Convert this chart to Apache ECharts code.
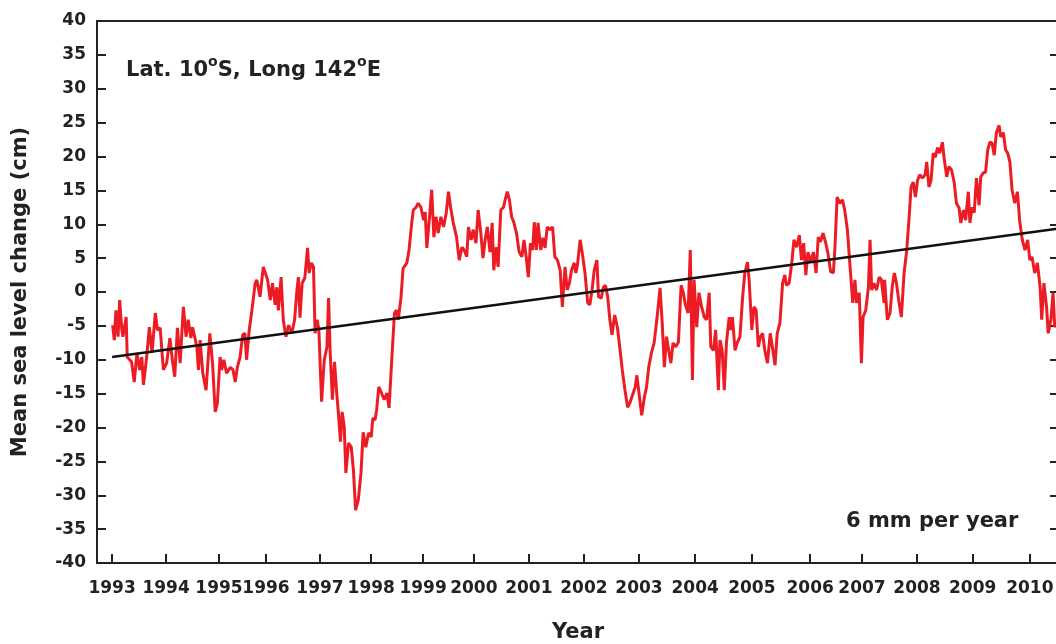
<!DOCTYPE html>
<html>
<head>
<meta charset="utf-8">
<script src="https://cdn.jsdelivr.net/npm/echarts@6/dist/echarts.min.js"></script>
<style>
html,body{margin:0;padding:0;background:#fff;overflow:hidden;}
#c{width:1061px;height:644px;}
</style>
</head>
<body>
<div id="c"></div>
<script>
// ---- data ----
const tickLabels = ['1993','1994','1995','1996','1997','1998','1999','2000','2001','2002','2003','2004','2005','2006','2007','2008','2009','2010'];
const tickPos = [1993.00,1994.00,1994.98,1995.85,1996.85,1997.80,1998.76,1999.70,2000.72,2001.74,2002.76,2003.80,2004.85,2005.93,2006.89,2007.91,2008.94,2010.00];

const years = [
1993.01,1993.04,1993.07,1993.11,1993.14,1993.18,1993.20,1993.26,1993.28,1993.36,1993.41,1993.46,1993.51,1993.55,1993.58,1993.64,1993.69,1993.74,1993.80,1993.84,1993.89,1993.95,
1994.01,1994.07,1994.12,1994.16,1994.21,1994.26,1994.32,1994.37,1994.41,1994.46,1994.49,1994.57,1994.60,1994.63,1994.68,1994.74,1994.81,1994.86,1994.91,1994.95,
1995.00,1995.03,1995.07,1995.12,1995.19,1995.24,1995.28,1995.32,1995.37,1995.42,1995.46,1995.49,1995.54,1995.59,1995.65,1995.68,1995.74,1995.80,1995.88,1995.93,1995.97,
1996.02,1996.05,1996.08,1996.13,1996.17,1996.22,1996.27,1996.33,1996.38,1996.42,1996.45,1996.48,1996.52,1996.57,1996.62,1996.65,1996.69,1996.73,1996.76,1996.80,1996.83,1996.88,1996.93,1996.98,
1997.01,1997.04,1997.08,1997.12,1997.16,1997.19,1997.23,1997.26,1997.30,1997.33,1997.38,1997.43,1997.47,1997.51,1997.56,1997.61,1997.65,1997.70,1997.75,1997.80,1997.83,1997.87,1997.90,1997.94,1997.99,
1998.04,1998.09,1998.13,1998.18,1998.23,1998.27,1998.30,1998.35,1998.39,1998.46,1998.50,1998.55,1998.58,1998.63,1998.67,1998.72,1998.77,1998.80,1998.83,1998.88,1998.92,1998.96,
1999.00,1999.04,1999.09,1999.14,1999.19,1999.23,1999.27,1999.32,1999.38,1999.43,1999.48,1999.52,1999.57,1999.60,1999.65,1999.69,1999.74,1999.78,1999.83,1999.87,1999.91,1999.95,
2000.00,2000.04,2000.07,2000.11,2000.15,2000.20,2000.25,2000.28,2000.32,2000.36,2000.40,2000.44,2000.49,2000.54,2000.59,2000.63,2000.67,2000.71,2000.75,2000.79,2000.82,2000.86,2000.89,2000.94,2000.98,
2001.02,2001.06,2001.11,2001.16,2001.20,2001.25,2001.30,2001.34,2001.39,2001.43,2001.47,2001.51,2001.56,2001.59,2001.62,2001.67,2001.71,2001.76,2001.81,2001.85,2001.89,2001.93,2001.98,
2002.01,2002.06,2002.10,2002.14,2002.18,2002.22,2002.26,2002.31,2002.36,2002.41,2002.45,2002.50,2002.55,2002.59,2002.64,2002.69,2002.72,2002.76,2002.81,2002.86,2002.90,2002.94,2002.99,
2003.04,2003.09,2003.15,2003.19,2003.23,2003.27,2003.31,2003.35,2003.39,2003.44,2003.49,2003.54,2003.58,2003.62,2003.67,2003.71,2003.75,2003.78,2003.83,2003.87,2003.92,2003.97,
2004.01,2004.06,2004.09,2004.14,2004.18,2004.23,2004.26,2004.30,2004.34,2004.38,2004.43,2004.46,2004.49,2004.54,2004.58,2004.63,2004.68,2004.72,2004.77,2004.80,2004.85,2004.89,2004.93,2004.97,
2005.01,2005.05,2005.09,2005.14,2005.19,2005.24,2005.28,2005.32,2005.37,2005.42,2005.46,2005.49,2005.54,2005.59,2005.63,2005.68,2005.73,2005.77,2005.81,2005.85,2005.89,2005.94,2005.99,
2006.04,2006.08,2006.12,2006.17,2006.22,2006.26,2006.31,2006.36,2006.39,2006.43,2006.48,2006.53,2006.57,2006.62,2006.67,2006.72,2006.76,2006.79,2006.84,2006.88,2006.91,2006.96,
2007.01,2007.04,2007.07,2007.11,2007.16,2007.21,2007.25,2007.30,2007.31,2007.36,2007.41,2007.45,2007.49,2007.53,2007.57,2007.62,2007.67,2007.72,2007.76,2007.80,2007.84,2007.88,2007.92,2007.96,
2008.01,2008.06,2008.09,2008.13,2008.17,2008.21,2008.25,2008.29,2008.33,2008.38,2008.41,2008.46,2008.50,2008.55,2008.60,2008.64,2008.69,2008.72,2008.77,2008.81,2008.86,2008.89,2008.93,2008.97,
2009.01,2009.06,2009.09,2009.14,2009.18,2009.22,2009.26,2009.30,2009.34,2009.38,2009.43,2009.46,2009.51,2009.55,2009.59,2009.63,2009.67,2009.72,2009.77,2009.81,2009.86,2009.91,2009.96,
2010.00,2010.04,2010.09,2010.14,2010.19,2010.22,2010.26,2010.31,2010.34,2010.39,2010.43,2010.46,2010.50
];

const seaLevel = [
-4.9,-7.1,-2.7,-6.6,-1.2,-5.6,-6.6,-3.7,-9.6,-10.3,-13.3,-9.0,-11.5,-9.6,-13.7,-9.6,-5.2,-9.0,-3.1,-5.6,-5.3,-11.5,
-10.5,-6.8,-10.3,-12.5,-5.3,-10.5,-2.2,-6.6,-4.1,-6.8,-5.2,-8.1,-11.5,-7.1,-12.0,-14.5,-6.1,-10.5,-17.7,-16.4,
-9.6,-11.5,-10.0,-12.0,-11.1,-11.5,-13.3,-11.1,-9.6,-6.3,-6.1,-10.0,-5.6,-2.7,1.3,1.8,-0.7,3.7,1.8,-1.2,1.3,
-1.9,0.7,-2.7,2.2,-4.1,-6.6,-4.9,-6.1,-4.1,-0.1,2.2,-3.8,1.3,2.1,6.5,2.8,4.3,3.7,-6.1,-4.1,-5.6,-16.2,-10.0,-8.1,
-0.9,-9.0,-15.9,-10.3,-14.9,-17.7,-22.1,-17.7,-19.9,-26.7,-22.3,-22.9,-26.3,-32.2,-30.7,-26.7,-20.7,-22.9,-20.8,-21.4,-18.6,-18.9,-17.4,-14.0,-14.9,
-15.9,-14.9,-17.1,-10.0,-3.1,-2.7,-4.1,-0.9,3.5,4.3,6.2,10.2,12.1,12.5,13.1,12.5,10.6,11.8,6.5,11.1,15.1,8.1,
11.1,8.7,11.1,9.6,11.7,14.8,12.5,10.2,8.1,4.7,6.6,6.2,5.2,9.6,7.7,9.2,7.2,12.1,8.7,5.0,7.7,9.6,
5.9,10.2,3.2,6.6,3.7,12.1,12.5,13.6,14.8,13.6,11.1,10.3,8.7,5.9,5.2,7.7,5.2,2.2,7.2,6.2,10.3,6.2,10.2,6.2,8.0,
6.5,9.6,9.2,9.6,5.2,4.7,3.2,-2.2,3.7,0.3,1.3,3.2,4.3,2.8,4.0,7.7,5.7,2.8,-1.6,-1.9,0.3,3.2,4.7,
-0.7,-0.9,0.7,1.0,-0.7,-4.1,-6.3,-3.4,-5.2,-8.6,-11.5,-14.5,-17.0,-16.4,-15.2,-14.0,-12.3,-14.9,-18.2,-15.5,-14.0,-11.1,-9.0,
-7.5,-4.1,0.6,-4.6,-11.1,-6.6,-8.6,-10.5,-7.5,-8.1,-7.4,1.0,-0.1,-1.9,-3.1,6.2,-13.0,1.8,-5.2,-0.1,-2.2,-3.7,
-4.1,-0.1,-8.1,-8.6,-5.6,-14.5,-7.1,-8.6,-14.5,-7.5,-3.7,-5.6,-3.7,-8.6,-7.5,-6.6,-0.7,2.8,4.4,1.8,-5.6,-2.2,-2.7,-8.1,
-6.6,-6.1,-8.6,-10.5,-6.1,-8.6,-10.8,-6.1,-4.6,1.3,2.5,1.0,1.3,4.3,7.7,6.6,8.4,4.7,7.2,2.5,5.9,4.4,5.9,
2.8,8.1,7.4,8.7,7.2,5.7,3.0,2.8,6.6,14.0,13.1,13.6,12.1,9.2,3.7,-1.6,1.8,-1.6,-0.1,-10.5,-3.7,-2.7,
0.7,7.7,0.3,1.3,0.3,2.2,1.8,-1.6,1.8,-4.1,-3.1,0.7,2.8,1.3,-1.2,-3.7,2.8,6.2,10.6,15.5,16.2,14.0,16.5,17.3,
16.8,17.3,19.2,15.5,16.5,20.5,19.9,21.3,20.5,22.1,19.9,17.0,18.5,18.0,16.1,13.1,12.4,10.2,12.1,10.6,14.8,10.2,12.5,11.7,
16.8,12.8,17.0,17.6,17.7,21.0,22.1,22.0,20.2,23.5,24.6,22.9,23.5,21.0,20.5,19.2,15.1,13.1,14.8,10.6,7.7,6.2,7.7,
4.7,5.2,2.8,4.3,0.7,-4.1,1.3,-2.2,-6.1,-4.1,-0.1,-5.2,-4.5
];

const trendYears = [1993.0, 2010.54];
const trendValues = [-9.6, 9.36];

// ---- chart ----
const FONT = 'DejaVu Sans';
const INK = '#222';
const seaData = years.map((y, i) => [y, seaLevel[i]]);
const trendData = trendYears.map((y, i) => [y, trendValues[i]]);
const X_MIN = 1992.72, X_MAX = 2010.54;

const chart = echarts.init(document.getElementById('c'), null, {renderer: 'canvas'});
chart.setOption({
  animation: false,
  backgroundColor: '#fff',
  grid: {left: 97, right: 2, top: 21, bottom: 81, containLabel: false, outerBoundsMode: 'none',
         show: true, borderColor: INK, borderWidth: 2, backgroundColor: 'transparent'},
  xAxis: [{
    type: 'value', min: X_MIN, max: X_MAX,
    axisLine: {show: true, onZero: false, lineStyle: {color: INK, width: 2}},
    axisTick: {show: true, inside: true, length: 9, customValues: tickPos, lineStyle: {color: INK, width: 2}},
    axisLabel: {show: true, customValues: tickPos, margin: 17,
      fontFamily: FONT, fontWeight: 'bold', fontSize: 17, color: INK,
      formatter: function (v) { const i = tickPos.indexOf(v); return i >= 0 ? tickLabels[i] : ''; }},
    splitLine: {show: false},
    name: 'Year', nameLocation: 'middle', nameGap: 59,
    nameTextStyle: {fontFamily: FONT, fontWeight: 'bold', fontSize: 21, color: INK}
  }, {
    type: 'value', position: 'top', min: X_MIN, max: X_MAX,
    axisLine: {show: true, onZero: false, lineStyle: {color: INK, width: 2}},
    axisTick: {show: false}, axisLabel: {show: false}, splitLine: {show: false}
  }],
  yAxis: [{
    type: 'value', min: -40, max: 40, interval: 5,
    axisLine: {show: true, onZero: false, lineStyle: {color: INK, width: 2}},
    axisTick: {show: true, inside: true, length: 9, lineStyle: {color: INK, width: 2}},
    axisLabel: {margin: 11, fontFamily: FONT, fontWeight: 'bold', fontSize: 17, color: INK},
    splitLine: {show: false},
    name: 'Mean sea level change (cm)', nameLocation: 'middle', nameGap: 66,
    nameTextStyle: {fontFamily: FONT, fontWeight: 'bold', fontSize: 21, color: INK}
  }, {
    type: 'value', position: 'right', min: -40, max: 40, interval: 5,
    axisLine: {show: true, onZero: false, lineStyle: {color: INK, width: 2}},
    axisTick: {show: true, inside: true, length: 9, lineStyle: {color: INK, width: 2}},
    axisLabel: {show: false}, splitLine: {show: false}
  }],
  series: [{
    type: 'line', name: 'Sea level', data: seaData, xAxisIndex: 0, yAxisIndex: 0,
    showSymbol: false, symbol: 'none',
    lineStyle: {color: '#ec1c24', width: 3}, z: 2
  }, {
    type: 'line', name: 'Trend', data: trendData, xAxisIndex: 0, yAxisIndex: 0,
    showSymbol: false, symbol: 'none',
    lineStyle: {color: '#111', width: 2.6}, z: 3
  }],
  graphic: [{
    type: 'text', left: 126, top: 55,
    style: {
      text: '{a|Lat. 10}{s|o}{a|S, Long 142}{s|o}{a|E}',
      rich: {
        a: {fontFamily: FONT, fontWeight: 'bold', fontSize: 21, fill: INK, color: INK, lineHeight: 26, verticalAlign: 'bottom'},
        s: {fontFamily: FONT, fontWeight: 'bold', fontSize: 14, fill: INK, color: INK, lineHeight: 26, verticalAlign: 'top'}
      }
    }
  }, {
    type: 'text', left: 846, top: 511,
    style: {text: '6 mm per year', fontFamily: FONT, fontWeight: 'bold', fontSize: 21, fill: INK}
  }]
});
</script>
</body>
</html>
